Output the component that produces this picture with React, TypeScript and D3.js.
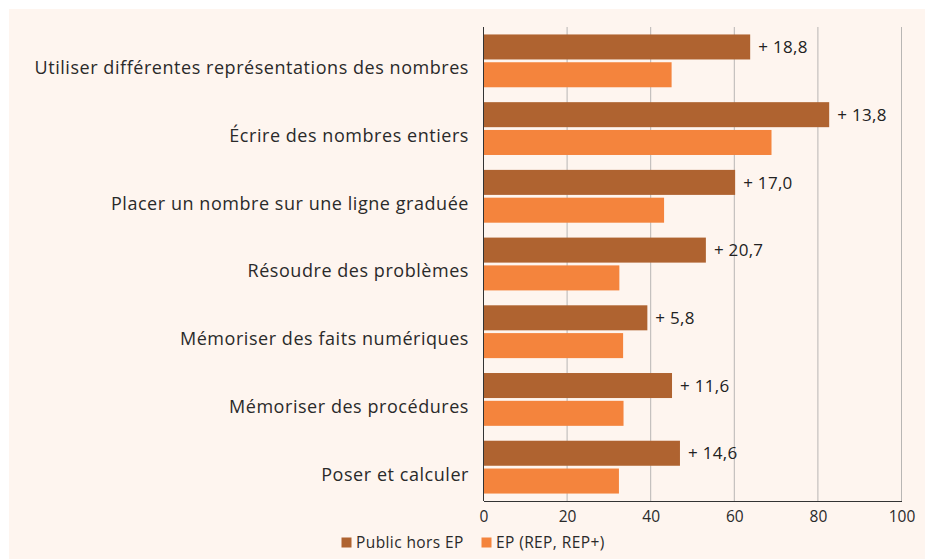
import * as d3 from 'd3';
import React, { useEffect, useRef } from 'react';

// Data
const categories = [
  "Utiliser différentes représentations des nombres",
  "Écrire des nombres entiers",
  "Placer un nombre sur une ligne graduée",
  "Résoudre des problèmes",
  "Mémoriser des faits numériques",
  "Mémoriser des procédures",
  "Poser et calculer",
];
const seriesNames = ["Public hors EP", "EP (REP, REP+)"];
const publicHorsEP = [63.8, 82.7, 60.2, 53.2, 39.2, 45.1, 47.0];
const epValues = [45.0, 68.9, 43.2, 32.5, 33.4, 33.5, 32.4];
const gapLabels = ["+ 18,8", "+ 13,8", "+ 17,0", "+ 20,7", "+ 5,8", "+ 11,6", "+ 14,6"];
const xTicks = [0, 20, 40, 60, 80, 100];

const colors = ["#AF6330", "#F4843D"];

export default function App() {
  const svgRef = useRef<SVGSVGElement | null>(null);

  const width = 925;
  const height = 559;
  const left = 483.5;
  const right = 901.5;
  const top = 27;
  const bottom = 501;
  const font = "'Open Sans', 'Noto Sans', sans-serif";

  useEffect(() => {
    const svg = d3.select(svgRef.current);
    svg.selectAll("*").remove();

    // background panel
    svg.append("rect").attr("width", width).attr("height", height).attr("fill", "#ffffff");
    svg.append("rect").attr("x", 9).attr("y", 9).attr("width", width - 9).attr("height", height - 9).attr("fill", "#FEF5EF");

    const x = d3.scaleLinear().domain([0, 100]).range([left, right]);
    const y = d3.scaleBand().domain(categories).range([top, bottom]).paddingInner(0.22).paddingOuter(0.11);
    const ySub = d3.scaleBand().domain(seriesNames).range([0, y.bandwidth()]).paddingInner(0.1);

    // gridlines
    svg.append("g")
      .selectAll("line")
      .data(xTicks.slice(1))
      .enter()
      .append("line")
      .attr("x1", d => x(d)).attr("x2", d => x(d))
      .attr("y1", top).attr("y2", bottom)
      .attr("stroke", "#b8b6b4")
      .attr("stroke-width", 1);

    // bars
    const rows = categories.map((c, i) => ({ c, vals: [publicHorsEP[i], epValues[i]], label: gapLabels[i] }));
    const groups = svg.append("g").selectAll("g")
      .data(rows)
      .enter()
      .append("g")
      .attr("transform", d => "translate(0," + y(d.c) + ")");

    groups.selectAll("rect")
      .data(d => d.vals.map((v, k) => ({ v, k })))
      .enter()
      .append("rect")
      .attr("x", x(0))
      .attr("y", d => ySub(seriesNames[d.k]) as number)
      .attr("width", d => x(d.v) - x(0))
      .attr("height", ySub.bandwidth())
      .attr("fill", d => colors[d.k]);

    // gap labels
    groups.append("text")
      .attr("x", d => x(d.vals[0]) + 8)
      .attr("y", ySub(seriesNames[0])! + ySub.bandwidth() / 2)
      .attr("dy", "0.36em")
      .attr("font-family", font)
      .attr("font-size", 17)
      .attr("letter-spacing", 0.3)
      .attr("fill", "#222")
      .text(d => d.label);

    // category labels
    groups.append("text")
      .attr("x", 469)
      .attr("y", y.bandwidth() / 2 + 7)
      .attr("dy", "0.36em")
      .attr("text-anchor", "end")
      .attr("font-family", font)
      .attr("font-size", 18)
      .attr("letter-spacing", 0.55)
      .attr("fill", "#2a2a2a")
      .text(d => d.c);

    // Y AXIS line
    svg.append("line")
      .attr("x1", x(0)).attr("x2", x(0))
      .attr("y1", top).attr("y2", bottom)
      .attr("stroke", "#333").attr("stroke-width", 1);

    // X AXIS
    const xAxis = svg.append("g")
      .attr("transform", "translate(0," + bottom + ")")
      .call(d3.axisBottom(x).tickValues(xTicks).tickSize(0).tickPadding(10).tickFormat(d3.format("d")));
    xAxis.select(".domain").attr("stroke", "#333").attr("stroke-width", 1.2);
    xAxis.selectAll("text")
      .attr("font-family", font)
      .attr("font-size", 15.5)
      .attr("fill", "#2a2a2a");

    // legend
    const legendX = [341.5, 481.5];
    const legend = svg.append("g").selectAll("g")
      .data(seriesNames)
      .enter()
      .append("g")
      .attr("transform", (d, i) => "translate(" + legendX[i] + ",537.5)");
    legend.append("rect").attr("width", 10).attr("height", 10).attr("fill", (d, i) => colors[i]);
    legend.append("text")
      .attr("x", 14.5)
      .attr("y", 5)
      .attr("dy", "0.36em")
      .attr("font-family", font)
      .attr("font-size", 15.5)
      .attr("letter-spacing", 0.4)
      .attr("fill", "#2a2a2a")
      .text(d => d);
  }, []);

  return (
    <svg ref={svgRef} width={width} height={height}
      style={{ position: "absolute", left: 0, top: 0, display: "block" }}></svg>
  );
}
